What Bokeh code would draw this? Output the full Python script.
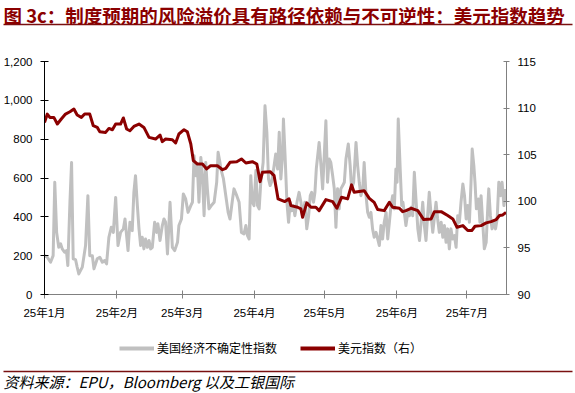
import pandas as pd
from bokeh.plotting import figure
from bokeh.layouts import column
from bokeh.models import (Range1d, LinearAxis, FixedTicker, NumeralTickFormatter,
                          Label, Legend, LegendItem)
from bokeh.embed import file_html
from bokeh.resources import INLINE

# ---------------- data ----------------
title_text = "图 3c：制度预期的风险溢价具有路径依赖与不可逆性：美元指数趋势"
source_text = "资料来源：EPU，Bloomberg 以及工银国际"
epu_name = "美国经济不确定性指数"
dxy_name = "美元指数（右）"

start_date = "2025-01-01"
end_date = "2025-07-18"
month_starts = ["2025-01-01", "2025-02-01", "2025-03-01", "2025-04-01",
                "2025-05-01", "2025-06-01", "2025-07-01"]
month_labels = ["25年1月", "25年2月", "25年3月", "25年4月", "25年5月", "25年6月", "25年7月"]
left_ticks = [0, 200, 400, 600, 800, 1000, 1200]
right_ticks = [90, 95, 100, 105, 110, 115]

# days since 2025-01-01 and EPU values
epu_day = [0.0, 1.2, 2.6, 3.7, 4.4, 5.2, 6.1, 6.9, 7.6, 8.6, 9.4, 10.0, 10.9, 11.6, 12.3, 13.3,
           14.0, 14.7, 16.2, 17.6, 18.6, 19.4, 20.5, 21.2, 22.6, 23.7, 24.8, 25.8, 26.6, 27.6,
           28.6, 29.5, 30.5, 31.5, 32.6, 33.8, 34.5, 35.8, 36.6, 37.6, 38.3, 39.0, 39.8, 40.5,
           41.2, 41.9, 42.6, 43.3, 44.1, 44.8, 45.5, 46.2, 47.2, 48.1, 48.6, 49.5, 50.5, 51.2,
           51.9, 52.7, 53.8, 54.8, 55.8, 57.0, 57.6, 58.7, 59.5, 60.5, 61.5, 62.7, 63.4, 64.1,
           64.8, 65.5, 66.2, 67.0, 67.7, 68.4, 69.1, 69.8, 70.5, 71.5, 72.7, 73.8, 74.4, 75.2,
           75.6, 76.7, 77.7, 78.7, 79.5, 80.6, 81.2, 82.4, 83.4, 84.4, 85.5, 86.3, 87.0, 87.7,
           88.4, 89.1, 89.8, 90.6, 91.3, 92.0, 92.7, 93.7, 94.5, 95.3, 96.0, 96.7, 97.3, 98.2,
           99.1, 99.9, 100.6, 101.3, 102.0, 102.4, 103.1, 103.9, 104.6, 105.3, 106.0, 106.7,
           107.3, 108.2, 109.1, 109.9, 110.6, 111.6, 112.4, 113.2, 113.9, 114.5, 115.3, 115.9,
           116.5, 117.7, 118.5, 119.2, 119.9, 120.6, 121.3, 122.0, 122.7, 123.5, 124.2, 124.9,
           125.6, 126.3, 127.0, 127.8, 128.5, 129.2, 130.2, 131.0, 131.6, 132.5, 133.5, 134.2,
           134.9, 135.6, 136.4, 137.0, 137.8, 138.5, 139.2, 139.9, 140.6, 141.3, 142.1, 142.8,
           143.5, 144.2, 144.9, 145.6, 146.4, 147.1, 147.8, 148.5, 149.2, 149.9, 150.6, 151.1,
           151.6, 152.5, 153.1, 153.6, 154.2, 154.9, 155.7, 156.4, 157.1, 157.8, 158.5, 159.2,
           160.0, 160.7, 161.4, 162.1, 162.8, 163.5, 164.3, 164.9, 165.7, 166.4, 167.1, 167.8,
           168.5, 169.2, 170.0, 170.7, 171.4, 172.1, 172.8, 173.5, 174.2, 174.9, 175.7, 176.4,
           177.1, 177.8, 178.5, 179.3, 180.0, 180.7, 181.4, 182.1, 182.8, 183.3, 184.0, 184.5,
           185.1, 186.0, 186.6, 187.1, 187.8, 188.5, 189.3, 190.0, 190.4, 191.1, 191.8, 192.6,
           193.3, 194.0, 194.7, 195.4, 196.1, 196.9, 197.6]
epu_val = [200, 192, 166, 200, 578, 320, 243, 261, 235, 218, 226, 149, 475, 680, 184, 180,
           141, 106, 141, 252, 509, 200, 200, 132, 184, 192, 166, 175, 158, 295,
           346, 320, 500, 252, 320, 338, 389, 226, 372, 329, 526, 612, 458, 338,
           252, 295, 235, 286, 243, 278, 235, 243, 372, 320, 364, 278, 355, 389,
           372, 209, 475, 243, 226, 269, 355, 389, 518, 492, 423, 458, 475, 715,
           612, 664, 475, 706, 612, 406, 680, 544, 441, 458, 475, 578, 732, 680,
           646, 595, 509, 423, 389, 492, 544, 509, 475, 320, 312, 355, 303, 286,
           612, 475, 458, 638, 458, 441, 578, 680, 972, 835, 595, 561, 578, 646,
           724, 646, 835, 595, 715, 904, 715, 475, 372, 475, 432, 458,
           406, 475, 526, 475, 406, 475, 338, 406, 509, 526, 475, 526,
           650, 783, 664, 544, 715, 895, 578, 698, 680, 612, 544, 346,
           544, 441, 544, 561, 578, 698, 775, 664, 544, 578, 783, 664,
           578, 509, 544, 680, 509, 423, 398, 423, 338, 295, 320, 286,
           252, 355, 286, 372, 423, 286, 372, 458, 509, 441, 646, 578,
           904, 629, 458, 475, 423, 355, 423, 406, 449, 406, 629, 492,
           338, 278, 372, 475, 355, 278, 423, 526, 406, 320, 398, 475,
           389, 320, 372, 295, 355, 269, 338, 235, 338, 286, 303, 243,
           406, 372, 475, 569, 509, 389, 458, 372, 578, 749, 664, 578,
           441, 492, 372, 509, 372, 235, 269, 458, 544, 406, 338, 372,
           338, 389, 578, 509, 578, 458, 544]

dxy_day = [0.0, 1.2, 2.3, 4.0, 5.5, 7.2, 9.0, 10.9, 12.6, 14.0, 15.8, 17.2, 19.4, 20.9, 22.6,
           23.7, 26.2, 27.6, 29.1, 30.5, 32.6, 33.8, 35.2, 36.6, 38.3, 40.5, 42.6, 44.8, 47.6,
           49.5, 50.5, 51.9, 54.8, 56.2, 57.6, 59.8, 61.2, 62.7, 63.8, 65.5, 67.7, 69.5, 71.2,
           74.1, 76.3, 77.7, 79.5, 82.4, 84.4, 86.3, 89.1, 91.0, 92.4, 93.4, 96.7, 98.4, 100.1,
           103.0, 104.8, 105.6, 108.5, 109.9, 110.6, 112.4, 114.2, 116.3, 117.7, 120.6, 123.5,
           125.3, 127.3, 129.9, 131.6, 132.7, 137.0, 139.2, 141.3, 142.8, 145.6, 147.8, 149.2,
           152.1, 153.5, 154.9, 157.1, 160.0, 162.5, 165.7, 167.1, 170.0, 172.8, 175.0, 176.8,
           179.3, 181.4, 183.1, 184.5, 187.1, 189.3, 191.4, 193.6, 195.0, 196.4, 197.8]
dxy_val = [108.46, 109.36, 109.0, 109.0, 108.29, 108.83, 109.36, 109.61, 109.9, 109.26, 109.0,
           109.36, 109.36, 108.11, 107.93, 107.47, 107.39, 107.82, 107.68, 108.29, 108.29,
           108.94, 107.76, 107.57, 108.03, 108.29, 107.93, 106.86, 106.68, 107.11, 106.4,
           106.68, 106.61, 106.26, 107.22, 107.68, 107.47, 106.15, 104.36, 104.0, 104.0,
           103.47, 103.82, 103.82, 103.39, 103.53, 104.18, 104.25, 104.54, 104.11, 104.25,
           104.0, 102.11, 103.11, 103.18, 102.75, 100.26, 99.97, 100.26, 99.54, 99.36, 99.18,
           98.28, 99.83, 99.36, 99.36, 99.0, 100.18, 99.97, 99.25, 100.43, 100.26, 101.76,
           100.96, 101.14, 100.32, 99.89, 99.11, 99.0, 99.89, 99.36, 99.25, 98.89, 99.0, 99.25,
           99.0, 98.04, 98.11, 98.89, 98.89, 98.47, 98.11, 97.21, 97.39, 96.86, 96.86, 97.32,
           97.39, 97.68, 97.82, 98.04, 98.47, 98.54, 98.82]

# ---------------- styling ----------------
RED = "#8B0000"
RULE = "#7A1010"
GRAY = "#C0C0C0"
AXIS_GRAY = "#808080"
NUM_FONT = "'Liberation Sans', 'Noto Sans CJK SC'"
CJK_FONT = "'Noto Sans CJK SC'"
W = 575
H_TOP, H_MAIN, H_BOT = 30, 294, 69


def strip(height):
    f = figure(width=W, height=height, output_backend="svg", toolbar_location=None,
               x_range=Range1d(0, W), y_range=Range1d(0, height),
               x_axis_location=None, y_axis_location=None, title=None,
               min_border=0, frame_align=False)
    f.outline_line_color = None
    f.grid.visible = False
    return f


# ---------------- title strip ----------------
top = strip(H_TOP)
top.add_layout(Label(x=3, y=H_TOP - 1, x_units="screen", y_units="screen", text=title_text,
                     text_font=CJK_FONT, text_font_size="18.5px", text_font_style="bold",
                     text_color=RED, text_baseline="top", text_align="left"))
top.line([3, 572], [6, 6], line_color=RULE, line_width=1.5)

# ---------------- main chart ----------------
base = pd.Timestamp(start_date)
span_days = (pd.Timestamp(end_date) - base).days
tick_pos = [(pd.Timestamp(d) - base).days for d in month_starts]

p = figure(width=W, height=H_MAIN, output_backend="svg", toolbar_location=None,
           x_range=Range1d(0, span_days), y_range=Range1d(left_ticks[0], left_ticks[-1]),
           min_border_left=44, min_border_right=69, min_border_top=31, min_border_bottom=30,
           frame_align=False)
p.extra_y_ranges = {"dxy": Range1d(right_ticks[0], right_ticks[-1])}
p.outline_line_color = None
p.xgrid.grid_line_color = None
p.ygrid.grid_line_color = None

r_epu = p.line(epu_day, epu_val, line_color=GRAY, line_width=3, line_join="round")
r_dxy = p.line(dxy_day, dxy_val, line_color=RED, line_width=3, line_join="round",
               y_range_name="dxy")

ya = p.yaxis[0]
ya.ticker = FixedTicker(ticks=left_ticks)
ya.formatter = NumeralTickFormatter(format="0,0")
ya.axis_line_color = "black"
ya.major_tick_line_color = "black"
ya.major_tick_in = 4
ya.major_tick_out = 4
ya.minor_tick_line_color = None
ya.major_label_standoff = 8
ya.major_label_text_font = NUM_FONT
ya.major_label_text_font_size = "11.5px"
ya.major_label_text_color = "black"

ra = LinearAxis(y_range_name="dxy", ticker=FixedTicker(ticks=right_ticks))
ra.axis_line_color = AXIS_GRAY
ra.major_tick_line_color = AXIS_GRAY
ra.major_tick_in = 3
ra.major_tick_out = 3
ra.minor_tick_line_color = None
ra.major_label_standoff = 8
ra.major_label_text_font = NUM_FONT
ra.major_label_text_font_size = "11.5px"
ra.major_label_text_color = "black"
p.add_layout(ra, "right")

xa = p.xaxis[0]
xa.ticker = FixedTicker(ticks=tick_pos)
xa.major_label_overrides = {t: lab for t, lab in zip(tick_pos, month_labels)}
xa.axis_line_color = AXIS_GRAY
xa.major_tick_line_color = AXIS_GRAY
xa.major_tick_in = 4
xa.major_tick_out = 4
xa.minor_tick_line_color = None
xa.major_label_standoff = 8
xa.major_label_text_font = NUM_FONT
xa.major_label_text_font_size = "11.5px"
xa.major_label_text_color = "black"

# ---------------- legend + source strip ----------------
bot = strip(H_BOT)
# legend swatch renderers (kept out of the visible strip)
g1 = bot.line([-20, -10], [0, 0], line_color=GRAY, line_width=4)
g2 = bot.line([-20, -10], [0, 0], line_color=RED, line_width=4)
legend = Legend(items=[LegendItem(label=epu_name, renderers=[g1]),
                       LegendItem(label=dxy_name, renderers=[g2])],
                orientation="horizontal", location=(119, 37),
                border_line_color=None, background_fill_alpha=0,
                glyph_width=35, glyph_height=16, label_standoff=3, spacing=23,
                label_text_font=CJK_FONT, label_text_font_size="12px",
                label_text_color="black", padding=0, margin=0)
bot.add_layout(legend)
bot.line([3, 572], [22, 22], line_color=RULE, line_width=1.5)
bot.add_layout(Label(x=3, y=12, x_units="screen", y_units="screen", text=source_text,
                     text_font=CJK_FONT, text_font_size="15px", text_font_style="italic",
                     text_color="black", text_baseline="middle", text_align="left"))

layout = column(top, p, bot, spacing=0)
open("out.html", "w").write(file_html(layout, INLINE))
